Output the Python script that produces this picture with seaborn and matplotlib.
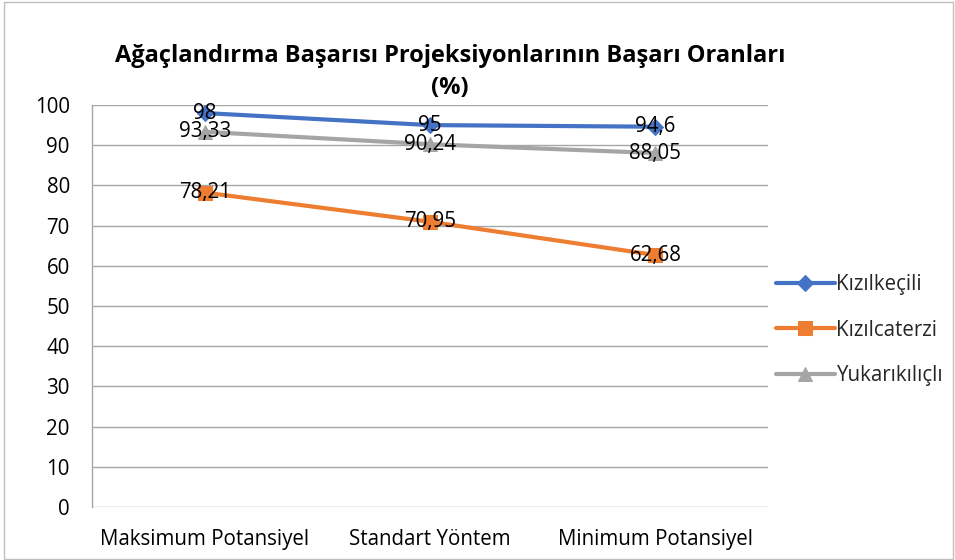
import matplotlib
matplotlib.use("Agg")
import matplotlib.pyplot as plt
import seaborn as sns
import pandas as pd
from matplotlib.patches import Rectangle

categories = ["Maksimum Potansiyel", "Standart Yöntem", "Minimum Potansiyel"]
series_names = ["Kızılkeçili", "Kızılcaterzi", "Yukarıkılıçlı"]
kizilkecili = [98, 95, 94.6]
kizilcaterzi = [78.21, 70.95, 62.68]
yukarikilicli = [93.33, 90.24, 88.05]
yticks = list(range(0, 101, 10))
title = "Ağaçlandırma Başarısı Projeksiyonlarının Başarı Oranları\n(%)"

values = [kizilkecili, kizilcaterzi, yukarikilicli]
rows = []
for name, vals in zip(series_names, values):
    for i, (c, v) in enumerate(zip(categories, vals)):
        rows.append({"cat": i, "Kategori": c, "Seri": name, "Değer": v})
df = pd.DataFrame(rows)

sns.set_theme(style="white")
plt.rcParams['font.family'] = ['Open Sans', 'DejaVu Sans']

colors = {"Kızılkeçili": "#4472C4", "Kızılcaterzi": "#ED7D31", "Yukarıkılıçlı": "#A5A5A5"}
markers = {"Kızılkeçili": "D", "Kızılcaterzi": "s", "Yukarıkılıçlı": "^"}
msizes = {"Kızılkeçili": 8, "Kızılcaterzi": 10, "Yukarıkılıçlı": 10}

FS = 14.8

fig = plt.figure(figsize=(9.55, 5.6), dpi=100)
ax = fig.add_axes([92/955, 1-507/560, (768-92)/955, (507-105)/560])

for name in series_names:
    sub = df[df["Seri"] == name]
    sns.lineplot(data=sub, x="cat", y="Değer", ax=ax, color=colors[name],
                 marker=markers[name], markersize=msizes[name], linewidth=3,
                 markeredgecolor=colors[name], label=name, zorder=3)

for name, vals in zip(series_names, values):
    for i, v in enumerate(vals):
        s = f"{v:g}".replace(".", ",")
        ax.text(i, v, s, ha="center", va="center", fontsize=FS, color="#000000", zorder=5)

ax.set_xlim(-0.5, 2.5)
ax.set_ylim(0, 100)
ax.set_yticks(yticks)
ax.set_xticks(range(len(categories)))
ax.set_xticklabels(categories)
ax.set_xlabel("")
ax.set_ylabel("")
ax.tick_params(axis="both", labelsize=FS, colors="#000000", length=0)
ax.tick_params(axis="x", pad=16)
ax.tick_params(axis="y", pad=16)
ax.yaxis.grid(True, color="#A6A6A6", linewidth=1)
ax.xaxis.grid(False)
for sp in ["top", "right", "bottom"]:
    ax.spines[sp].set_visible(False)
ax.spines["left"].set_color("#A6A6A6")
ax.spines["left"].set_linewidth(1)

leg = ax.legend(loc="center left", bbox_to_anchor=(0.99, 0.44), frameon=False,
                fontsize=FS, handlelength=2.9, handletextpad=0.05, labelspacing=1.2,
                borderaxespad=0.3)

fig.text(450/955, 1-72/560, title, ha="center", va="center", fontsize=17,
         fontweight="bold", color="#000000", linespacing=1.45)

fig.patches.append(Rectangle((0.004, 0.002), 0.994, 0.994, transform=fig.transFigure,
                             fill=False, edgecolor="#BFBFBF", linewidth=1))

fig.savefig("out.png", dpi=100)
